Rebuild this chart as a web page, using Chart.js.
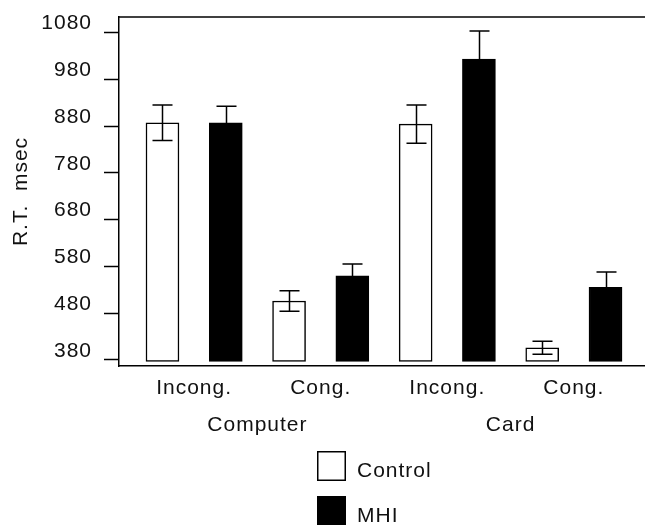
<!DOCTYPE html>
<html>
<head>
<meta charset="utf-8">
<script src="https://cdn.jsdelivr.net/npm/chart.js@4/dist/chart.umd.min.js"></script>
<style>
  html, body { margin: 0; padding: 0; background: #fff; }
  #wrap { width: 645px; height: 525px; }
</style>
</head>
<body>
<div id="wrap"><canvas id="c" width="645" height="525"></canvas></div>
<script>
// ---- data ----
const conditions = ["Incong.", "Cong.", "Incong.", "Cong."];
const groups = ["Computer", "Card"];
const seriesNames = ["Control", "MHI"];
const controlRT = [887, 506, 884, 406];
const controlErr = [38, 22, 41, 14];
const mhiRT = [887, 560, 1023, 535];
const mhiErr = [35, 25, 60, 33];
const yTickValues = [380, 480, 580, 680, 780, 880, 980, 1080];
const yTitle = "R.T.  msec";

const FONT = "'Liberation Sans', Arial, sans-serif";
const FS = 21;
const INK = '#111';

// bar slots: control at even index, MHI at odd index
const controlPts = controlRT.map((v, i) => ({ x: 2 * i, y: v }));
const mhiPts = mhiRT.map((v, i) => ({ x: 2 * i + 1, y: v }));
const condPos = conditions.map((c, i) => 2 * i + 0.5);
const groupPos = groups.map((g, i) => 4 * i + 1.5);

const spacingPlugin = {
  id: 'spacing',
  beforeUpdate(chart) { chart.ctx.letterSpacing = '1px'; },
  beforeDraw(chart) { chart.ctx.letterSpacing = '1px'; }
};

const errorBars = {
  id: 'errorBars',
  afterDatasetsDraw(chart) {
    const ctx = chart.ctx;
    const ys = chart.scales.y;
    const errs = [controlErr, mhiErr];
    ctx.save();
    ctx.strokeStyle = '#000';
    ctx.lineWidth = 1.5;
    chart.data.datasets.forEach((ds, di) => {
      const meta = chart.getDatasetMeta(di);
      meta.data.forEach((bar, i) => {
        const v = ds.data[i].y, e = errs[di][i];
        const x = Math.round(bar.x) + 0.5;
        const yt = ys.getPixelForValue(v + e);
        const yb = ys.getPixelForValue(v - e);
        ctx.beginPath();
        ctx.moveTo(x, yt); ctx.lineTo(x, yb);
        ctx.moveTo(x - 10, yt); ctx.lineTo(x + 10, yt);
        ctx.moveTo(x - 10, yb); ctx.lineTo(x + 10, yb);
        ctx.stroke();
      });
    });
    ctx.restore();
  }
};

const frameAndLegend = {
  id: 'frameAndLegend',
  afterDraw(chart) {
    const ctx = chart.ctx;
    const a = chart.chartArea;
    ctx.save();
    ctx.strokeStyle = '#000';
    ctx.lineWidth = 1.5;
    ctx.beginPath();
    ctx.moveTo(a.left, a.top);
    ctx.lineTo(a.right, a.top);
    ctx.stroke();
    // legend
    ctx.letterSpacing = '1px';
    ctx.font = FS + 'px ' + FONT;
    ctx.textBaseline = 'alphabetic';
    ctx.textAlign = 'left';
    const bx = 317, bw = 29, bh = 30;
    const rows = [451, 496];
    chart.data.datasets.forEach((ds, i) => {
      const by = rows[i];
      ctx.fillStyle = ds.backgroundColor;
      ctx.fillRect(bx, by, bw, bh);
      ctx.lineWidth = 1.5;
      ctx.strokeStyle = '#000';
      ctx.strokeRect(bx + 0.75, by + 0.75, bw - 1.5, bh - 1.5);
      ctx.fillStyle = INK;
      ctx.fillText(ds.label, 357, by + 26);
    });
    ctx.restore();
  }
};

new Chart(document.getElementById('c'), {
  type: 'bar',
  data: {
    datasets: [
      { label: seriesNames[0], data: controlPts, backgroundColor: '#ffffff', borderColor: '#000', borderWidth: 1.5, borderSkipped: false, base: 377, grouped: false, barThickness: 33 },
      { label: seriesNames[1], data: mhiPts, backgroundColor: '#000000', borderColor: '#000', borderWidth: 1.5, borderSkipped: false, base: 377, grouped: false, barThickness: 33 }
    ]
  },
  options: {
    responsive: false,
    devicePixelRatio: 1,
    animation: false,
    layout: { padding: { left: 0, right: 0, top: 17, bottom: 87 } },
    plugins: { legend: { display: false }, tooltip: { enabled: false } },
    scales: {
      x: {
        type: 'linear', position: 'bottom', weight: 0, offset: false,
        min: -0.687, max: 7.624,
        afterBuildTicks: s => { s.ticks = condPos.map(v => ({ value: v })); },
        afterFit: s => { s.height = 35; s.paddingLeft = 0; s.paddingRight = 0; },
        ticks: { callback: (v, i) => conditions[i], font: { family: FONT, size: FS }, color: INK, padding: 10, maxRotation: 0, autoSkip: false },
        grid: { display: false, drawTicks: false, offset: false },
        border: { display: true, color: '#000', width: 1.5 }
      },
      x2: {
        type: 'linear', position: 'bottom', weight: 1, offset: false,
        min: -0.687, max: 7.624,
        afterBuildTicks: s => { s.ticks = groupPos.map(v => ({ value: v })); },
        afterFit: s => { s.height = 37; s.paddingLeft = 0; s.paddingRight = 0; },
        ticks: { callback: (v, i) => groups[i], font: { family: FONT, size: FS }, color: INK, padding: 12, maxRotation: 0, autoSkip: false },
        grid: { display: false, drawTicks: false, offset: false },
        border: { display: false }
      },
      y: {
        type: 'linear', position: 'left',
        min: 367, max: 1113,
        afterBuildTicks: s => { s.ticks = yTickValues.map(v => ({ value: v })); },
        afterFit: s => { s.width = 119; s.paddingTop = 0; s.paddingBottom = 0; },
        ticks: { callback: v => String(v), font: { family: FONT, size: FS }, color: INK, padding: 12, labelOffset: -9 },
        grid: { display: true, drawOnChartArea: false, drawTicks: true, tickLength: 15, tickColor: '#000', tickWidth: 1.5 },
        border: { display: true, color: '#000', width: 1.5 },
        title: { display: true, text: yTitle, font: { family: FONT, size: FS }, color: INK, padding: { top: 9, bottom: 0 } }
      }
    }
  },
  plugins: [spacingPlugin, errorBars, frameAndLegend]
});
</script>
</body>
</html>
